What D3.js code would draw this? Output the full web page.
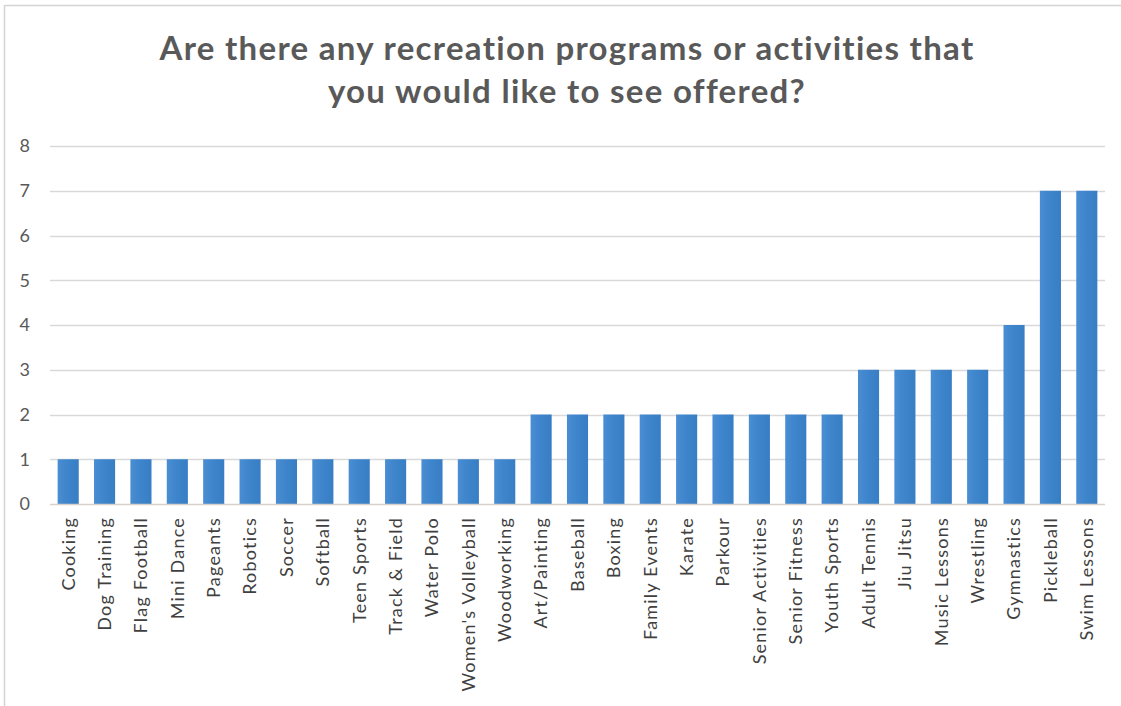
<!DOCTYPE html>
<html>
<head>
<meta charset="utf-8">
<script src="https://cdn.jsdelivr.net/npm/d3@7"></script>
<style>
  html, body { margin: 0; padding: 0; background: #fff; }
  svg { display: block; }
  text { font-family: Lato, "Open Sans", "Liberation Sans", sans-serif; }
</style>
</head>
<body>
<svg id="chart" width="1121" height="706"></svg>
<script>
// Survey responses: programs people would like to see offered
const categories = [
  "Cooking", "Dog Training", "Flag Football", "Mini Dance", "Pageants",
  "Robotics", "Soccer", "Softball", "Teen Sports", "Track & Field",
  "Water Polo", "Women's Volleyball", "Woodworking", "Art/Painting",
  "Baseball", "Boxing", "Family Events", "Karate", "Parkour",
  "Senior Activities", "Senior Fitness", "Youth Sports", "Adult Tennis",
  "Jiu Jitsu", "Music Lessons", "Wrestling", "Gymnastics", "Pickleball",
  "Swim Lessons"
];
const responses = [
  1, 1, 1, 1, 1, 1, 1, 1, 1, 1, 1, 1, 1,
  2, 2, 2, 2, 2, 2, 2, 2, 2,
  3, 3, 3, 3,
  4, 7, 7
];
const yTicks = [0, 1, 2, 3, 4, 5, 6, 7, 8];
const titleLines = [
  "Are there any recreation programs or activities that",
  "you would like to see offered?"
];

const svg = d3.select("#chart");
const W = 1121, H = 706;
const margin = { left: 50, right: 16, top: 146, bottom: 202 };
const plotW = W - margin.left - margin.right;
const plotH = H - margin.top - margin.bottom;

// Chart frame (top and left edges)
svg.append("line").attr("x1", 4.5).attr("x2", W).attr("y1", 5.5).attr("y2", 5.5)
  .attr("stroke", "#d4d4d4").attr("stroke-width", 1.5);
svg.append("line").attr("x1", 4.5).attr("x2", 4.5).attr("y1", 5).attr("y2", H)
  .attr("stroke", "#d4d4d4").attr("stroke-width", 1.5);

// Bar fill gradient
const defs = svg.append("defs");
const grad = defs.append("linearGradient").attr("id", "barFill")
  .attr("x1", "0%").attr("x2", "100%").attr("y1", "0%").attr("y2", "0%");
grad.append("stop").attr("offset", "0%").attr("stop-color", "#4a8dd2");
grad.append("stop").attr("offset", "50%").attr("stop-color", "#3d84cb");
grad.append("stop").attr("offset", "100%").attr("stop-color", "#387ec5");

// Title
svg.append("text")
  .attr("x", 567).attr("y", 60)
  .attr("text-anchor", "middle")
  .attr("font-size", 33).attr("font-weight", 700).attr("fill", "#595959")
  .attr("letter-spacing", 1.3)
  .selectAll("tspan").data(titleLines).join("tspan")
  .attr("x", 567).attr("dy", (d, i) => i === 0 ? 0 : 43)
  .text(d => d);

const g = svg.append("g").attr("transform", `translate(${margin.left},${margin.top})`);

const x = d3.scaleBand().domain(categories).range([0, plotW]).paddingInner(0.42).paddingOuter(0.21);
const y = d3.scaleLinear().domain([0, 8]).range([plotH, 0]);

// Horizontal gridlines
g.append("g").selectAll("line").data(yTicks.filter(t => t > 0)).join("line")
  .attr("x1", 0).attr("x2", plotW)
  .attr("y1", d => Math.round(y(d)) + 0.5).attr("y2", d => Math.round(y(d)) + 0.5)
  .attr("stroke", "#d9d9d9").attr("stroke-width", 1.3);

// Y axis labels
const yAxis = d3.axisLeft(y).tickValues(yTicks).tickSize(0).tickPadding(20);
const yg = g.append("g").call(yAxis);
yg.select(".domain").remove();
yg.selectAll("text").attr("font-size", 18).attr("fill", "#595959")
  .attr("font-family", "Lato, 'Open Sans', sans-serif");

// Bars
g.append("g").selectAll("rect").data(categories).join("rect")
  .attr("x", d => x(d))
  .attr("y", (d, i) => y(responses[i]))
  .attr("width", x.bandwidth())
  .attr("height", (d, i) => y(0) - y(responses[i]))
  .attr("fill", "url(#barFill)");

// Baseline
g.append("line").attr("x1", 0).attr("x2", plotW)
  .attr("y1", plotH + 0.5).attr("y2", plotH + 0.5)
  .attr("stroke", "#d8d2cb").attr("stroke-width", 1.5);

// X axis labels, rotated
const xAxis = d3.axisBottom(x).tickSize(0).tickPadding(0);
const xg = g.append("g").attr("transform", `translate(0,${plotH})`).call(xAxis);
xg.select(".domain").remove();
xg.selectAll("text")
  .attr("font-size", 18).attr("fill", "#404040")
  .attr("letter-spacing", 1.2)
  .attr("font-family", "Lato, 'Open Sans', sans-serif")
  .attr("text-anchor", "end")
  .attr("transform", "rotate(-90)")
  .attr("x", -13).attr("y", 0).attr("dy", "0.35em");
</script>
</body>
</html>
